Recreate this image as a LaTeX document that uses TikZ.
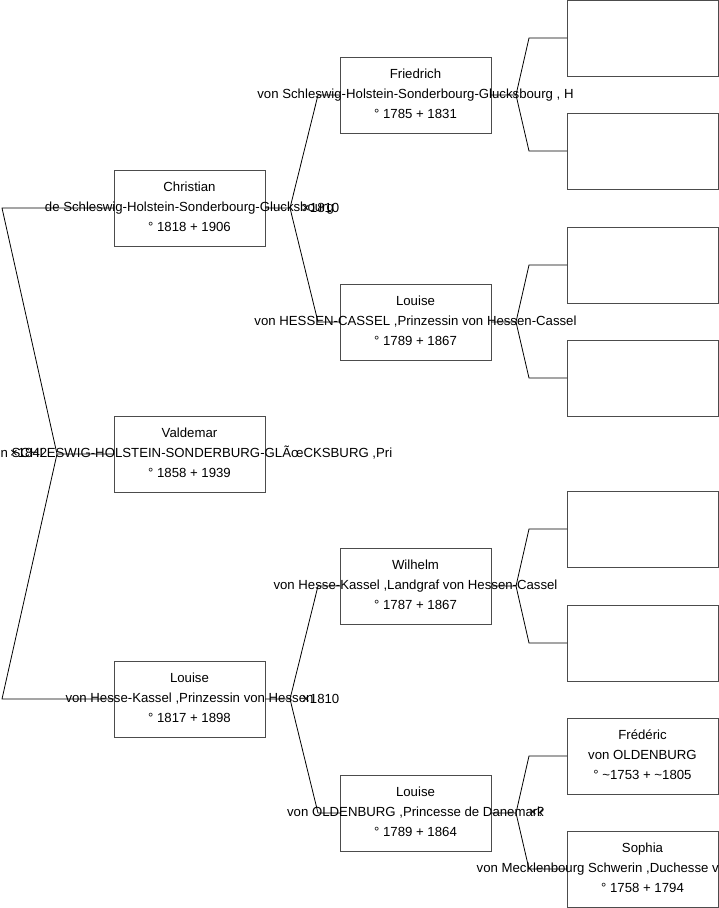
\documentclass[tikz,border=0pt]{standalone}
\usepackage{fontspec}
\setmainfont{Liberation Sans}
\usetikzlibrary{positioning,calc}

\begin{document}
\begin{tikzpicture}[x=1pt, y=-1pt,
    person/.style={draw=black!70, line width=0.9pt, rectangle, minimum width=151pt, minimum height=76pt, inner sep=0pt, outer sep=0pt},
    info/.style={align=center, inner sep=0pt, font=\fontsize{13.2}{20}\selectfont},
    wed/.style={anchor=west, inner sep=0pt, font=\fontsize{13.2}{20}\selectfont},
    link/.style={draw=black, line width=0.8pt}]
    \useasboundingbox (0,0) rectangle (719,908);
    \clip (0,0) rectangle (719,908);

    % first generation
    \node[person] (christian) at (189.5,208) {};
    \node[person] (valdemar) at (189.5,454) {};
    \node[person] (louise) at (189.5,699) {};

    % second generation
    \node[person] (friedrich) at (415.5,95) {};
    \node[person] (louiseh) at (415.5,322) {};
    \node[person] (wilhelm) at (415.5,586) {};
    \node[person] (louiseo) at (415.5,813) {};

    % third generation
    \node[person] (friedrichf) at (642.5,38) {};
    \node[person] (friedrichm) at (642.5,151) {};
    \node[person] (louisehf) at (642.5,265) {};
    \node[person] (louisehm) at (642.5,378) {};
    \node[person] (wilhelmf) at (642.5,529) {};
    \node[person] (wilhelmm) at (642.5,643) {};
    \node[person] (frederic) at (642.5,756) {};
    \node[person] (sophia) at (642.5,869) {};

    % texts
    \node[info] (christian-txt) at ([yshift=1pt]christian.center)
        {Christian\\ de Schleswig-Holstein-Sonderbourg-Glucksbourg\\ ° 1818 + 1906};
    \node[info] (valdemar-txt) at ([yshift=1pt]valdemar.center)
        {Valdemar\\ von SCHLESWIG-HOLSTEIN-SONDERBURG-GLÃœCKSBURG ,Pri\\ ° 1858 + 1939};
    \node[info] (louise-txt) at ([yshift=1pt]louise.center)
        {Louise\\ von Hesse-Kassel ,Prinzessin von Hessen\\ ° 1817 + 1898};
    \node[info] (friedrich-txt) at ([yshift=1pt]friedrich.center)
        {Friedrich\\ von Schleswig-Holstein-Sonderbourg-Glucksbourg , H\\ ° 1785 + 1831};
    \node[info] (louiseh-txt) at ([yshift=1pt]louiseh.center)
        {Louise\\ von HESSEN-CASSEL ,Prinzessin von Hessen-Cassel\\ ° 1789 + 1867};
    \node[info] (wilhelm-txt) at ([yshift=1pt]wilhelm.center)
        {Wilhelm\\ von Hesse-Kassel ,Landgraf von Hessen-Cassel\\ ° 1787 + 1867};
    \node[info] (louiseo-txt) at ([yshift=1pt]louiseo.center)
        {Louise\\ von OLDENBURG ,Princesse de Danemark\\ ° 1789 + 1864};
    \node[info] (frederic-txt) at ([yshift=1pt]frederic.center)
        {Frédéric\\ von OLDENBURG\\ ° \textasciitilde1753 + \textasciitilde1805};
    \node[info] (sophia-txt) at ([yshift=1pt]sophia.center)
        {Sophia\\ von Mecklenbourg Schwerin ,Duchesse von Mecklenbou\\ ° 1758 + 1794};

    % junctions
    \coordinate (jv) at ($(valdemar.west)+(-57,0)$);
    \coordinate (jc) at ($(christian.east)+(25,0)$);
    \coordinate (jl) at ($(louise.east)+(25,0)$);
    \coordinate (jf) at ($(friedrich.east)+(25,0)$);
    \coordinate (jh) at ($(louiseh.east)+(25,0)$);
    \coordinate (jw) at ($(wilhelm.east)+(25,0)$);
    \coordinate (jo) at ($(louiseo.east)+(25,0)$);

    % connectors
    \draw[link] (valdemar.west) -- (jv) -- ([xshift=-112pt]christian.west) -- (christian.west);
    \draw[link] (jv) -- ([xshift=-112pt]louise.west) -- (louise.west);
    \draw[link] (christian.east) -- (jc) -- ([xshift=-22pt]friedrich.west) -- (friedrich.west);
    \draw[link] (jc) -- ([xshift=-22pt]louiseh.west) -- (louiseh.west);
    \draw[link] (louise.east) -- (jl) -- ([xshift=-22pt]wilhelm.west) -- (wilhelm.west);
    \draw[link] (jl) -- ([xshift=-22pt]louiseo.west) -- (louiseo.west);
    \draw[link] (friedrich.east) -- (jf) -- ([xshift=-38pt]friedrichf.west) -- (friedrichf.west);
    \draw[link] (jf) -- ([xshift=-38pt]friedrichm.west) -- (friedrichm.west);
    \draw[link] (louiseh.east) -- (jh) -- ([xshift=-38pt]louisehf.west) -- (louisehf.west);
    \draw[link] (jh) -- ([xshift=-38pt]louisehm.west) -- (louisehm.west);
    \draw[link] (wilhelm.east) -- (jw) -- ([xshift=-38pt]wilhelmf.west) -- (wilhelmf.west);
    \draw[link] (jw) -- ([xshift=-38pt]wilhelmm.west) -- (wilhelmm.west);
    \draw[link] (louiseo.east) -- (jo) -- ([xshift=-38pt]frederic.west) -- (frederic.west);
    \draw[link] (jo) -- ([xshift=-38pt]sophia.west) -- (sophia.west);

    % marriages
    \node[wed] (wed-v) at ($(jv)+(-47,-1)$) {×1842};
    \node[wed] (wed-c) at ($(jc)+(12,0)$) {×1810};
    \node[wed] (wed-l) at ($(jl)+(12,0)$) {×1810};
    \node[wed] (wed-o) at ($(jo)+(13,-1)$) {×?};
\end{tikzpicture}
\end{document}
